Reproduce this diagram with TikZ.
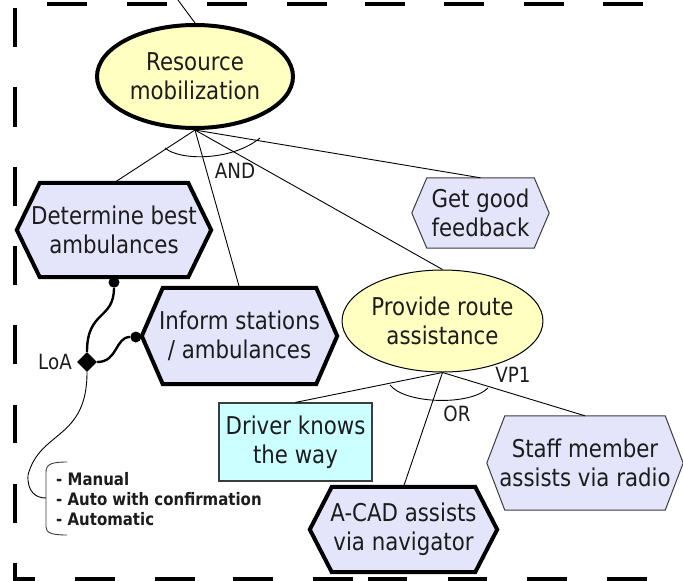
\documentclass[tikz,border=0pt]{standalone}
\usepackage{fontspec}
\setmainfont{DejaVu Sans}[FakeStretch=0.87]
\usetikzlibrary{shapes.geometric,calc}

\definecolor{goalfill}{RGB}{255,255,194}
\definecolor{taskfill}{RGB}{228,228,250}
\definecolor{resfill}{RGB}{204,255,255}
\definecolor{txt}{RGB}{28,28,28}
\definecolor{thinedge}{RGB}{60,60,60}

\pgfdeclarelayer{bg}
\pgfsetlayers{bg,main}

\newcommand\bigtxt{\fontsize{24.5}{29}\selectfont}
\newcommand\lbltxt{\fontsize{21}{25}\selectfont}
\newcommand\listtxt{\fontsize{17.2}{20}\selectfont\bfseries}

% hexagonal outline behind a named text node: #1 node, #2 corner inset, #3 draw options
\newcommand\hexoutline[3]{%
  \begin{pgfonlayer}{bg}
    \draw[#3] (#1.west) -- ($(#1.north west)+(#2,0)$) -- ($(#1.north east)+(-#2,0)$)
      -- (#1.east) -- ($(#1.south east)+(-#2,0)$) -- ($(#1.south west)+(#2,0)$) -- cycle;
  \end{pgfonlayer}}

\tikzset{
  goal/.style={ellipse, fill=goalfill, draw=black, inner sep=0pt, align=center,
    font=\bigtxt, text=txt},
  hexnode/.style={rectangle, inner sep=0pt, align=center, font=\bigtxt, text=txt},
  hexthick/.style={fill=taskfill, draw=black, line width=4pt, line join=miter},
  hexthin/.style={fill=taskfill, draw=thinedge, line width=1pt, line join=miter},
  resbox/.style={rectangle, fill=resfill, draw=thinedge, line width=1.2pt,
    inner sep=0pt, align=center, font=\bigtxt, text=txt},
  conn/.style={draw=black, line width=0.9pt},
  link/.style={draw=black, line width=2.4pt},
  dot/.style={circle, fill=black, inner sep=0pt, minimum size=11pt},
  lbl/.style={inner sep=0pt, font=\lbltxt, text=txt},
  border/.style={line width=4.5pt, black},
}

\begin{document}
\begin{tikzpicture}[x=1pt, y=-1pt]
\useasboundingbox (0,0) rectangle (683,581);

% dashed frame
\foreach \a/\b in {8/47, 87/127, 167/206, 246/285, 325/364, 405/443, 484/523, 563/581}
  \draw[border] (15,\a) -- (15,\b);
\foreach \a/\b in {13/35, 75/115, 155/195, 233/273, 313/353, 368/407, 448/487, 527/567, 607/647}
  \draw[border] (\a,579) -- (\b,579);
\foreach \a/\b in {47/87, 127/167, 207/247, 287/327, 365/405, 444/484, 524/564, 603/643, 683/700}
  \draw[border] (\a,4) -- (\b,4);

% goals
\node[goal, line width=4pt, minimum width=196pt, minimum height=103pt] (res) at (195,76.5)
  {Resource\\mobilization};
\node[goal, line width=1pt, minimum width=197pt, minimum height=102pt] (prov) at (442.5,321)
  {Provide route\\assistance};

% tasks
\node[hexnode, minimum width=194pt, minimum height=94pt] (det) at (114,230)
  {Determine best\\ambulances};
\hexoutline{det}{23}{hexthick}
\node[hexnode, minimum width=195pt, minimum height=96pt] (inf) at (239.5,336)
  {Inform stations\\/ ambulances};
\hexoutline{inf}{21}{hexthick}
\node[hexnode, minimum width=137pt, minimum height=70pt] (fb) at (480.5,213)
  {Get good\\feedback};
\hexoutline{fb}{15}{hexthin}
\node[hexnode, minimum width=187pt, minimum height=85pt] (acad) at (403.5,529.5)
  {A-CAD assists\\via navigator};
\hexoutline{acad}{22}{hexthick}
\node[hexnode, minimum width=196pt, minimum height=94pt] (staff) at (585,463)
  {Staff member\\assists via radio};
\hexoutline{staff}{18}{hexthin}

% resource
\node[resbox, minimum width=153pt, minimum height=78pt] (drv) at (295.5,442)
  {Driver knows\\the way};

% refinement links
\coordinate (up) at (178,0);
\draw[conn] (up) -- (res.north);
\draw[conn] (res.south) -- (det.north);
\draw[conn] (res.south) -- (inf.north);
\draw[conn] (res.south) -- (prov.north);
\draw[conn] (res.south) -- (fb.north);
\draw[conn] (165,148) .. controls (180,161) and (232,161) .. (260,138);
\node[lbl] (andlbl) at (235,171) {AND};

\draw[conn] (prov.south) -- (drv.north);
\draw[conn] (prov.south) -- (acad.north);
\draw[conn] (prov.south) -- (staff.north);
\draw[conn] (390,385) .. controls (405,404) and (470,406) .. (488,388);
\node[lbl] (orlbl) at (457,414) {OR};
\node[lbl] (vplbl) at (513,375) {VP1};

% level of automation
\node[dot] (d1) at ($(det.south)+(0,5)$) {};
\node[dot] (d2) at ($(inf.west)+(-6,1)$) {};
\node[diamond, aspect=1, fill=black, inner sep=0pt, minimum size=20pt] (loa) at (87,362) {};
\node[lbl] (loalbl) at (55,362) {LoA};
\draw[link] (d1) .. controls (114,320) and (87,310) .. (loa.north);
\draw[link] (loa.east) .. controls (118,362) and (115,337) .. (d2);

\coordinate (bracetip) at (46,498);
\draw[conn] (loa.south) .. controls (87,440) and (40,430) .. (28,475)
  .. controls (27,492) and (36,498) .. (bracetip);
\draw[conn, draw=thinedge] (67,462) .. controls (52,462) and (46,464) .. (46,472)
  -- (46,527) .. controls (46,533) and (52,535) .. (67,535);
\node[anchor=west, align=left, inner sep=0pt, font=\listtxt, text=txt] (modes) at (56,499)
  {- Manual\\- Auto with confirmation\\- Automatic};
\end{tikzpicture}
\end{document}
